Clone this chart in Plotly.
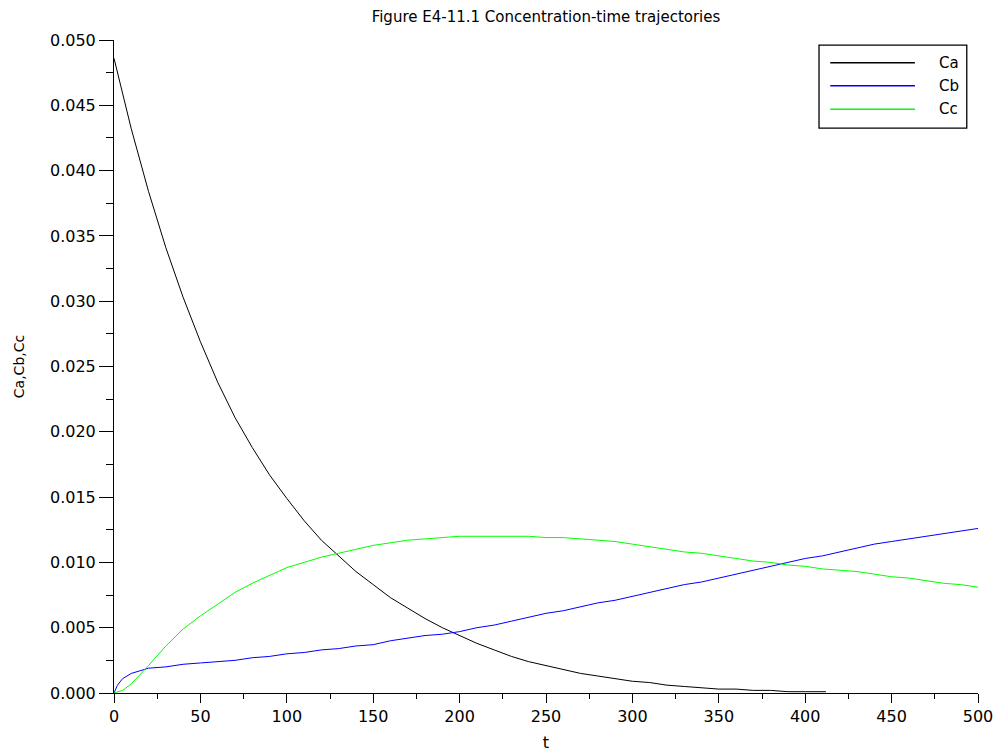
import plotly.graph_objects as go

# Time grid (s) and concentrations read at each sample
t_a = [0, 10, 20, 30, 40, 50, 60, 70, 80, 90, 100, 110, 120, 130, 140, 150, 160,
       170, 180, 190, 200, 210, 220, 230, 240, 250, 260, 270, 280, 290, 300, 310,
       320, 330, 340, 350, 360, 370, 380, 390, 400, 412]
ca = [0.0486, 0.0432, 0.0384, 0.0341, 0.0303, 0.0269, 0.0238, 0.0211, 0.0188,
      0.0167, 0.0149, 0.0132, 0.0117, 0.0105, 0.0093, 0.0083, 0.0073, 0.0065,
      0.0057, 0.0050, 0.0044, 0.0038, 0.0033, 0.0028, 0.0024, 0.0021, 0.0018,
      0.0015, 0.0013, 0.0011, 0.0009, 0.0008, 0.0006, 0.0005, 0.0004, 0.0003,
      0.0003, 0.0002, 0.0002, 0.0001, 0.0001, 0.0001]

t_b = [0, 2, 5, 10, 15, 20, 30, 40, 50, 60, 70, 80, 90, 100, 110, 120, 130, 140,
       150, 160, 170, 180, 190, 200, 210, 220, 230, 240, 250, 260, 270, 280, 290,
       300, 310, 320, 330, 340, 350, 360, 370, 380, 390, 400, 410, 420, 430, 440,
       450, 460, 470, 480, 490, 500]
cb = [0.0, 0.0006, 0.0011, 0.0015, 0.0017, 0.0019, 0.0020, 0.0022, 0.0023,
      0.0024, 0.0025, 0.0027, 0.0028, 0.0030, 0.0031, 0.0033, 0.0034, 0.0036,
      0.0037, 0.0040, 0.0042, 0.0044, 0.0045, 0.0047, 0.0050, 0.0052, 0.0055,
      0.0058, 0.0061, 0.0063, 0.0066, 0.0069, 0.0071, 0.0074, 0.0077, 0.0080,
      0.0083, 0.0085, 0.0088, 0.0091, 0.0094, 0.0097, 0.0100, 0.0103, 0.0105,
      0.0108, 0.0111, 0.0114, 0.0116, 0.0118, 0.0120, 0.0122, 0.0124, 0.0126]

t_c = [0, 5, 10, 15, 20, 30, 40, 50, 60, 70, 80, 90, 100, 110, 120, 130, 140, 150,
       160, 170, 180, 190, 200, 210, 220, 230, 240, 250, 260, 270, 280, 290, 300,
       310, 320, 330, 340, 350, 360, 370, 380, 390, 400, 410, 420, 430, 440, 450,
       460, 470, 480, 490, 500]
cc = [0.0, 0.0002, 0.0007, 0.0014, 0.0021, 0.0036, 0.0049, 0.0059, 0.0068,
      0.0077, 0.0084, 0.0090, 0.0096, 0.0100, 0.0104, 0.0107, 0.0110, 0.0113,
      0.0115, 0.0117, 0.0118, 0.0119, 0.0120, 0.0120, 0.0120, 0.0120, 0.0120,
      0.0119, 0.0119, 0.0118, 0.0117, 0.0116, 0.0114, 0.0112, 0.0110, 0.0108,
      0.0107, 0.0105, 0.0103, 0.0101, 0.0100, 0.0098, 0.0097, 0.0095, 0.0094,
      0.0093, 0.0091, 0.0089, 0.0088, 0.0086, 0.0084, 0.0083, 0.0081]

series = [("Ca", t_a, ca, "#000000"),
          ("Cb", t_b, cb, "#0000ff"),
          ("Cc", t_c, cc, "#00ff00")]

FONT = "DejaVu Sans"

fig = go.Figure()
for name, t, y, color in series:
    fig.add_trace(go.Scatter(x=t, y=y, mode="lines", name=name,
                             line=dict(color=color, width=1), showlegend=False))

# Boxed legend in the upper-right corner with long line samples
shapes = [dict(type="rect", xref="paper", yref="paper",
               x0=0.816, x1=0.987, y0=0.865, y1=0.992,
               line=dict(color="black", width=1.3), fillcolor="white", layer="above")]
annotations = []
row_y = [0.965, 0.930, 0.894]
for (name, _, _, color), ry in zip(series, row_y):
    shapes.append(dict(type="line", xref="paper", yref="paper",
                       x0=0.829, x1=0.927, y0=ry, y1=ry,
                       line=dict(color=color, width=1.5), layer="above"))
    annotations.append(dict(xref="paper", yref="paper", x=0.952, y=ry,
                            text=name, showarrow=False, xanchor="left",
                            yanchor="middle",
                            font=dict(family=FONT, size=15, color="black")))

axis_common = dict(showline=True, linecolor="black", linewidth=1,
                   showgrid=False, zeroline=False, mirror=False, automargin=False,
                   ticks="outside", tickcolor="black", tickwidth=1,
                   tickfont=dict(family=FONT, size=16, color="black"))

fig.update_layout(
    width=999, height=754,
    margin=dict(l=114, r=21, t=40, b=61),
    paper_bgcolor="white", plot_bgcolor="white",
    title=dict(text="Figure E4-11.1 Concentration-time trajectories",
               x=0.5, xref="paper", y=1 - 17 / 754, yanchor="middle",
               font=dict(family=FONT, size=15, color="black")),
    xaxis=dict(range=[0, 500], dtick=50, tick0=0, ticklen=9,
               minor=dict(dtick=25, ticklen=5, ticks="outside", tickcolor="black"),
               title=dict(text="t", standoff=11,
                          font=dict(family=FONT, size=16, color="black")),
               **axis_common),
    yaxis=dict(range=[0, 0.05], dtick=0.005, tick0=0, tickformat=".3f", ticklen=14,
               minor=dict(dtick=0.0025, ticklen=7, ticks="outside", tickcolor="black"),
               title=dict(text="Ca,Cb,Cc", standoff=22,
                          font=dict(family=FONT, size=14, color="black")),
               **axis_common),
    shapes=shapes,
    annotations=annotations,
)

fig.write_html("out.html")
